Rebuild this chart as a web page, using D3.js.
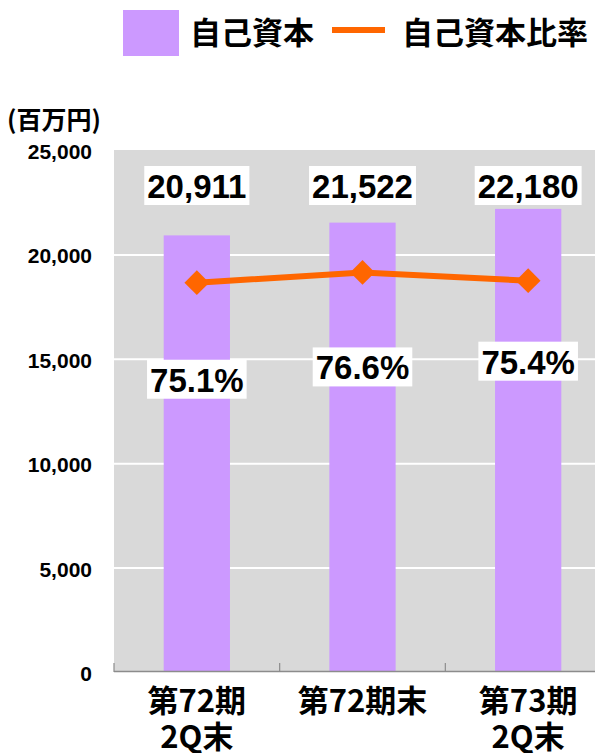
<!DOCTYPE html>
<html>
<head>
<meta charset="utf-8">
<script src="https://cdn.jsdelivr.net/npm/d3@7"></script>
<style>
body{margin:0;background:#fff;}
text{font-family:"Liberation Sans",Arial,sans-serif;}
.jp{font-family:"Noto Sans CJK JP","Noto Sans",sans-serif;font-weight:bold;}
</style>
</head>
<body>
<svg id="chart"></svg>
<script>
// data
var periods = [["第72期","2Q末"],["第72期末"],["第73期","2Q末"]]
var equity = [20911, 21522, 22180]
var ratio = [75.1, 76.6, 75.4]
var yTicks = [0, 5000, 10000, 15000, 20000, 25000]
var legendNames = ["自己資本", "自己資本比率"]

// layout nudges for the % labels (below the markers)
var pctDy = [109, 107, 93]

var screen = {width:595, height:753}
var plot = {left:114, right:611, top:150, bottom:672}

var svg = d3.select("#chart")
    .attr("width", screen.width)
    .attr("height", screen.height)

var keys = periods.map(function(p){ return p.join("") })

var xScale = d3.scaleBand()
    .domain(keys)
    .range([plot.left, plot.right])
    .padding(0)

var yScale = d3.scaleLinear()
    .domain([0, 25000])
    .range([plot.bottom, plot.top])

var yScale2 = d3.scaleLinear()
    .domain([18.5, 94.4])
    .range([plot.bottom, plot.top])

// background
svg.append("rect")
    .attr("x", plot.left)
    .attr("y", plot.top)
    .attr("width", plot.right - plot.left)
    .attr("height", plot.bottom - plot.top)
    .attr("fill", "#d9d9d9")

// gridlines
var grid = svg.append("g")
    .attr("transform", "translate(" + plot.left + ",0)")
    .call(d3.axisLeft(yScale).tickValues(yTicks.slice(1, -1)).tickSize(-(plot.right - plot.left)).tickFormat(""))
grid.select(".domain").remove()
grid.selectAll("line").attr("stroke", "#fff").attr("stroke-width", 2)

// y axis labels
var yAxis = svg.append("g")
    .attr("transform", "translate(" + (plot.left - 22) + ",0)")
    .call(d3.axisLeft(yScale).tickValues(yTicks).tickSize(0).tickPadding(0).tickFormat(d3.format(",")))
yAxis.select(".domain").remove()
yAxis.selectAll("text")
    .attr("font-size", 21)
    .attr("font-weight", "bold")
    .attr("fill", "#000")
    .attr("dy", "0.4em")
    .attr("font-family", "'Liberation Sans',Arial,sans-serif")

svg.append("text")
    .attr("class", "jp")
    .attr("x", 7)
    .attr("y", 129)
    .attr("font-size", 25)
    .text("(百万円)")

// bars
var bw = xScale.bandwidth() * 0.4
svg.selectAll(".bar")
    .data(equity)
    .enter()
    .append("rect")
    .attr("class", "bar")
    .attr("x", function(d, i){ return xScale(keys[i]) + (xScale.bandwidth() - bw) / 2 })
    .attr("y", function(d){ return yScale(d) })
    .attr("width", bw)
    .attr("height", function(d){ return yScale(0) - yScale(d) })
    .attr("fill", "#cc99ff")

// x axis line and boundary ticks
svg.append("line")
    .attr("x1", plot.left).attr("x2", plot.right)
    .attr("y1", plot.bottom - 0.5).attr("y2", plot.bottom - 0.5)
    .attr("stroke", "#8c8c8c").attr("stroke-width", 1.5)
svg.selectAll(".xtick")
    .data(keys.concat(["end"]))
    .enter()
    .append("line")
    .attr("class", "xtick")
    .attr("x1", function(d){ return d == "end" ? plot.right : xScale(d) })
    .attr("x2", function(d){ return d == "end" ? plot.right : xScale(d) })
    .attr("y1", plot.bottom - 9)
    .attr("y2", plot.bottom)
    .attr("stroke", "#8c8c8c")
    .attr("stroke-width", 1.2)

// category labels
var cat = svg.selectAll(".cat")
    .data(periods)
    .enter()
    .append("text")
    .attr("class", "jp cat")
    .attr("text-anchor", "middle")
    .attr("font-size", 31)
    .attr("fill", "#000")
cat.selectAll("tspan")
    .data(function(d, i){ return d.map(function(s){ return {s:s, i:i} }) })
    .enter()
    .append("tspan")
    .attr("x", function(d){ return xScale(keys[d.i]) + xScale.bandwidth() / 2 })
    .attr("y", function(d, j){ return 712 + j * 36 })
    .text(function(d){ return d.s })

// ratio line
var cx = function(d, i){ return xScale(keys[i]) + xScale.bandwidth() / 2 }
var line = d3.line()
    .x(cx)
    .y(function(d){ return yScale2(d) })
svg.append("path")
    .datum(ratio)
    .attr("d", line)
    .attr("fill", "none")
    .attr("stroke", "#ff6600")
    .attr("stroke-width", 6)

svg.selectAll(".mk")
    .data(ratio)
    .enter()
    .append("path")
    .attr("class", "mk")
    .attr("d", d3.symbol().type(d3.symbolDiamond2).size(390))
    .attr("transform", function(d, i){ return "translate(" + cx(d, i) + "," + yScale2(d) + ")" })
    .attr("fill", "#ff6600")

// value labels with white boxes
var addLabel = function(x, y, txt){
    var g = svg.append("g")
    var t = g.append("text")
        .attr("x", x)
        .attr("y", y)
        .attr("text-anchor", "middle")
        .attr("font-size", 33)
        .attr("font-weight", "bold")
        .attr("fill", "#000")
        .text(txt)
    var b = t.node().getBBox()
    g.insert("rect", "text")
        .attr("x", b.x - 3)
        .attr("y", b.y - 2)
        .attr("width", b.width + 6)
        .attr("height", b.height + 2)
        .attr("fill", "#fff")
}

equity.forEach(function(d, i){
    addLabel(cx(d, i), 198, d3.format(",")(d))
})
ratio.forEach(function(d, i){
    addLabel(cx(d, i), yScale2(d) + pctDy[i], d.toFixed(1) + "%")
})

// legend
svg.append("rect")
    .attr("x", 123).attr("y", 10)
    .attr("width", 56).attr("height", 46)
    .attr("fill", "#cc99ff")
svg.append("text")
    .attr("class", "jp")
    .attr("x", 190).attr("y", 44)
    .attr("font-size", 31)
    .text(legendNames[0])
svg.append("line")
    .attr("x1", 332).attr("x2", 385)
    .attr("y1", 30).attr("y2", 30)
    .attr("stroke", "#ff6600").attr("stroke-width", 6)
svg.append("text")
    .attr("class", "jp")
    .attr("x", 402).attr("y", 44)
    .attr("font-size", 31)
    .text(legendNames[1])
</script>
</body>
</html>
